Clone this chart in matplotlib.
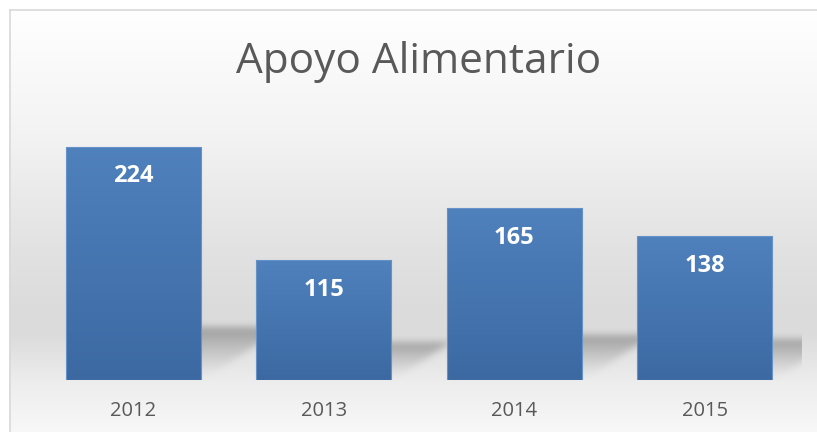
import numpy as np
import matplotlib
matplotlib.use("Agg")
import matplotlib.pyplot as plt
from matplotlib.colors import LinearSegmentedColormap
from matplotlib.lines import Line2D

# chart data
years = ["2012", "2013", "2014", "2015"]
values = [224, 115, 165, 138]
title = "Apoyo Alimentario"

W, H = 817, 432
FONT = ["Open Sans", "DejaVu Sans"]
GREY_TXT = "#595959"


def box_blur(a, k, passes=3):
    kern = np.ones(k) / k
    for _ in range(passes):
        a = np.apply_along_axis(lambda r: np.convolve(r, kern, mode="same"), 1, a)
        a = np.apply_along_axis(lambda c: np.convolve(c, kern, mode="same"), 0, a)
    return a


fig = plt.figure(figsize=(W / 100, H / 100), dpi=100)
fig.patch.set_facecolor("white")

# plot area (pixel box, y measured from the top)
px_left, px_right, px_top, px_bottom = 38, 800, 120, 380
ax = fig.add_axes([px_left / W, (H - px_bottom) / H,
                   (px_right - px_left) / W, (px_bottom - px_top) / H])
ax.set_facecolor("none")
ax.set_xlim(-0.5, len(years) - 0.5)
ax.set_ylim(0, 250)
for s in ax.spines.values():
    s.set_visible(False)
ax.set_yticks([])

x = np.arange(len(years))
bar_w = 0.71
bars = ax.bar(x, values, width=bar_w, color="none",
              edgecolor="#6592c8", linewidth=0.8, zorder=3)

# gradient fill of bars
bar_cmap = LinearSegmentedColormap.from_list("barblue", ["#3c69a2", "#4f81bd"])
gv = np.linspace(0, 1, 256)[:, None]
for xi, v, b in zip(x, values, bars):
    im = ax.imshow(gv, cmap=bar_cmap, origin="lower", aspect="auto",
                   extent=[xi - bar_w / 2, xi + bar_w / 2, 0, v], zorder=2)
    im.set_clip_path(b)
ax.set_xlim(-0.5, len(years) - 0.5)
ax.set_ylim(0, 250)

# chart-area background: vertical grey gradient
rows = np.arange(H)
shade = np.interp(rows, [9, 130, 250, 310, 335, 382, 432],
                  [1.0, 0.955, 0.885, 0.86, 0.862, 0.93, 0.972])
base = np.repeat(shade[:, None], W, axis=1)

# perspective shadows cast behind each bar (from the bar geometry, in pixels)
mask = np.zeros((H, W))
cols = np.arange(W)
for xi, v in zip(x, values):
    (x0, yb), (x1, yt) = ax.transData.transform([(xi - bar_w / 2, 0), (xi + bar_w / 2, v)])
    r_bot = H - yb
    h = 0.13 * (yt - yb) + 22
    dx = 1.55 * h
    for r in range(int(r_bot - h), int(r_bot)):
        t = (r_bot - r) / h
        inside = (cols >= x0 + dx * t) & (cols <= x1 + dx * t)
        mask[r, inside] = np.maximum(mask[r, inside], t ** 1.3)
mask = box_blur(mask, 7)
mask[:, px_right + 2:] = 0
mask[px_bottom + 1:, :] = 0
base = base * (1 - 0.27 * mask)

base[:9, :] = 1.0
base[:, :9] = 1.0
rgb = np.dstack([base] * 3)
fig.figimage(rgb, xo=0, yo=0, origin="upper", zorder=-1)

# chart frame (left and top edges visible)
fig.add_artist(Line2D([9.5 / W, 9.5 / W], [0, 1 - 9.5 / H], color="#d9d9d9", lw=1.2))
fig.add_artist(Line2D([9.5 / W, 1], [1 - 9.5 / H, 1 - 9.5 / H], color="#d9d9d9", lw=1.2))

# value labels inside bars
for xi, v in zip(x, values):
    ax.annotate(f"{v}", (xi, v), xytext=(0, -21), textcoords="offset points",
                ha="center", va="center", color="white", fontsize=17,
                fontweight="bold", family=FONT, zorder=5)

ax.set_xticks(x, years)
ax.tick_params(axis="x", length=0, pad=15, labelsize=14.5, labelcolor=GREY_TXT)
for lab in ax.get_xticklabels():
    lab.set_family(FONT)

fig.text(418.5 / W, (H - 73) / H, title, ha="center", va="baseline",
         fontsize=30.5, color=GREY_TXT, family=FONT)

fig.savefig("out.png", dpi=100)
